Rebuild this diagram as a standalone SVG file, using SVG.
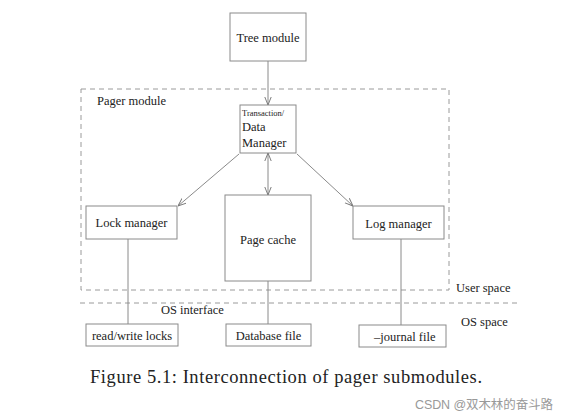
<svg xmlns="http://www.w3.org/2000/svg" width="569" height="420" viewBox="0 0 569 420">
<style>
.box{fill:#fff;stroke:#8a8a8a;stroke-width:1}
.t{font-family:"Liberation Serif",serif;font-size:12.5px;fill:#222}
.dash{fill:none;stroke:#9a9a9a;stroke-width:1;stroke-dasharray:5,4}
.ln{stroke:#8a8a8a;stroke-width:1;fill:none}
</style>
<defs>
<marker id="ah" viewBox="0 0 10 10" refX="10" refY="5" markerWidth="8" markerHeight="8" orient="auto-start-reverse" markerUnits="userSpaceOnUse">
<path d="M0,1 L10,5 L0,9" fill="none" stroke="#777" stroke-width="1.2"/>
</marker>
</defs>
<rect width="569" height="420" fill="#fff"/>
<g id="regions">
<rect class="dash" x="81" y="89" width="368" height="201"/>
<line class="dash" x1="80" y1="303" x2="517" y2="303"/>
<text class="t" x="97" y="105">Pager module</text>
<text class="t" x="456" y="292">User space</text>
<text class="t" x="461" y="326">OS space</text>
<text class="t" x="161" y="314">OS interface</text>
</g>
<g id="connectors">
<line class="ln" x1="268" y1="61" x2="268" y2="105" marker-end="url(#ah)"/>
<line class="ln" x1="268" y1="153" x2="268" y2="195" marker-start="url(#ah)" marker-end="url(#ah)"/>
<line class="ln" x1="239" y1="154" x2="178" y2="206" marker-end="url(#ah)"/>
<line class="ln" x1="297" y1="154" x2="353" y2="206" marker-end="url(#ah)"/>
<line class="ln" x1="128" y1="239" x2="128" y2="324"/>
<line class="ln" x1="268" y1="281" x2="268" y2="324"/>
<line class="ln" x1="401" y1="239" x2="401" y2="325"/>
</g>
<g id="tree"><rect class="box" x="230" y="13" width="76" height="48"/><text class="t" x="268" y="42" text-anchor="middle">Tree module</text></g>
<g id="tdm"><rect class="box" x="240" y="105" width="56" height="48"/>
<text class="t" x="242" y="116" style="font-size:8.5px">Transaction/</text>
<text class="t" x="242" y="131">Data</text>
<text class="t" x="242" y="147">Manager</text></g>
<g id="lock"><rect class="box" x="86" y="206" width="91" height="33"/><text class="t" x="131.5" y="227" text-anchor="middle">Lock manager</text></g>
<g id="cache"><rect class="box" x="225" y="195" width="86" height="86"/><text class="t" x="268" y="244" text-anchor="middle">Page cache</text></g>
<g id="log"><rect class="box" x="353" y="206" width="91" height="33"/><text class="t" x="398.5" y="228" text-anchor="middle">Log manager</text></g>
<g id="rwlocks"><rect class="box" x="86" y="324" width="92" height="22"/><text class="t" x="132" y="340" text-anchor="middle">read/write locks</text></g>
<g id="dbfile"><rect class="box" x="226" y="324" width="85" height="22"/><text class="t" x="268.5" y="340" text-anchor="middle">Database file</text></g>
<g id="journal"><rect class="box" x="359" y="325" width="87" height="22"/><text class="t" x="374" y="341">–journal file</text></g>
<text x="90" y="383" style="font-family:'Liberation Serif',serif;font-size:18.5px;fill:#222" textLength="392">Figure 5.1: Interconnection of pager submodules.</text>
<text x="415" y="409" style="font-family:'Liberation Sans','Noto Sans CJK SC',sans-serif;font-size:12.5px;fill:#999" textLength="138">CSDN @双木林的奋斗路</text>
</svg>
